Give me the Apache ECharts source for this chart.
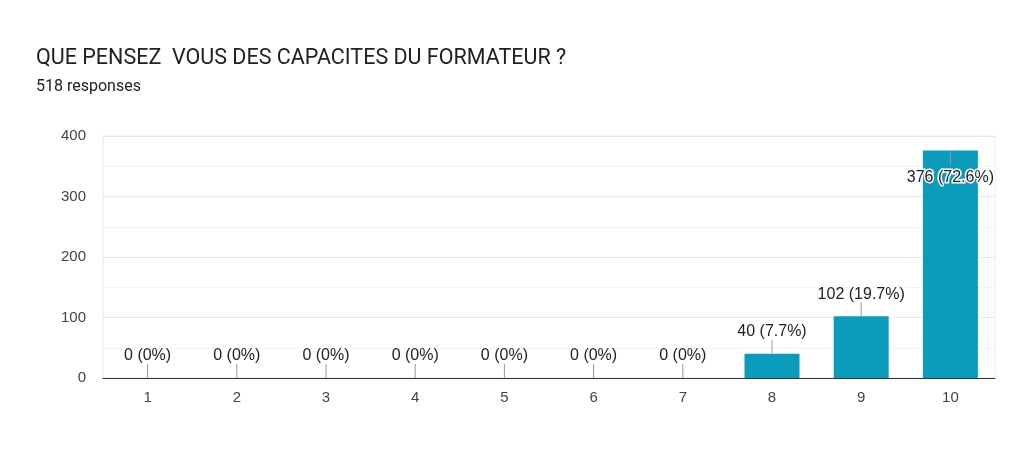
<!DOCTYPE html>
<html>
<head>
<meta charset="utf-8">
<script src="https://cdn.jsdelivr.net/npm/echarts@6/dist/echarts.min.js"></script>
<style>
  html, body { margin: 0; padding: 0; background: #fff; }
  #main { width: 1024px; height: 472px; }
</style>
</head>
<body>
<div id="main"></div>
<script>
// données
var categories = ['1', '2', '3', '4', '5', '6', '7', '8', '9', '10'];
var counts = [0, 0, 0, 0, 0, 0, 0, 40, 102, 376];
var percents = ['0%', '0%', '0%', '0%', '0%', '0%', '0%', '7.7%', '19.7%', '72.6%'];
var yTicks = [0, 100, 200, 300, 400];

var barColor = '#0b9bbb';
var labelData = counts.map(function (v, i) {
    return [i, v, v + ' (' + percents[i] + ')'];
});

var myChart = echarts.init(document.getElementById('main'));

// étiquette + trait gris au-dessus de chaque barre (à l'intérieur si pas de place)
function renderLabel(params, api) {
    var p = api.coord([api.value(0), api.value(1)]);
    var top = params.coordSys.y;
    var txt = labelData[params.dataIndex][2];
    var above = p[1] - 34 >= top;
    var lineEnd = above ? p[1] - 14 : p[1] + 14;
    var textY = above ? p[1] - 22 : p[1] + 27;
    return {
        type: 'group',
        children: [
            {
                type: 'line',
                shape: { x1: p[0], y1: p[1], x2: p[0], y2: lineEnd },
                style: { stroke: '#999', lineWidth: 1 }
            },
            {
                type: 'text',
                x: p[0],
                y: textY,
                style: {
                    text: txt,
                    fill: '#222',
                    font: '16px Arial, "Liberation Sans", sans-serif',
                    align: 'center',
                    verticalAlign: 'middle',
                    stroke: '#fff',
                    lineWidth: 3
                }
            }
        ]
    };
}

var option = {
    backgroundColor: '#fff',
    animation: false,
    title: [
        {
            text: 'QUE PENSEZ  VOUS DES CAPACITES DU FORMATEUR ?',
            left: 31,
            top: 43,
            textStyle: { fontFamily: 'Roboto', fontSize: 21.5, fontWeight: 'normal', color: '#202124' }
        },
        {
            text: '518 responses',
            left: 31,
            top: 74,
            textStyle: { fontFamily: 'Roboto', fontSize: 16, fontWeight: 'normal', color: '#202124' }
        }
    ],
    grid: {
        left: 103,
        right: 29,
        top: 136,
        bottom: 94,
        show: true,
        borderColor: '#ebebeb',
        borderWidth: 1
    },
    xAxis: {
        type: 'category',
        data: categories,
        axisLine: { lineStyle: { color: '#333', width: 1 } },
        axisTick: { show: false },
        axisLabel: { color: '#444', fontSize: 15, fontFamily: 'Arial, sans-serif', margin: 12 },
        splitLine: { show: false }
    },
    yAxis: {
        type: 'value',
        min: yTicks[0],
        max: yTicks[yTicks.length - 1],
        interval: 100,
        axisLine: { show: false },
        axisTick: { show: false },
        axisLabel: { color: '#444', fontSize: 15, fontFamily: 'Arial, sans-serif', margin: 17 },
        splitLine: { lineStyle: { color: '#e8e8e8' } },
        minorTick: { show: false, splitNumber: 2 },
        minorSplitLine: { show: true, lineStyle: { color: '#f4f4f4' } }
    },
    series: [
        {
            type: 'bar',
            data: counts,
            barWidth: 55,
            itemStyle: { color: barColor },
            z: 2
        },
        {
            type: 'custom',
            data: labelData,
            renderItem: renderLabel,
            z: 5,
            silent: true
        }
    ]
};

myChart.setOption(option);
</script>
</body>
</html>
